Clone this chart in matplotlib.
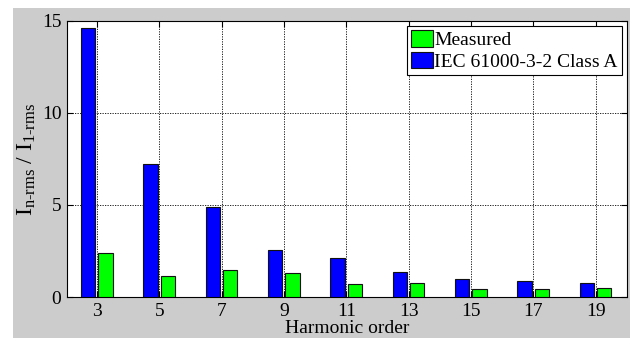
import matplotlib
matplotlib.use("Agg")
import matplotlib.pyplot as plt
import numpy as np
from matplotlib.patches import Rectangle

plt.rcParams['font.family'] = ['Liberation Serif', 'DejaVu Serif']
plt.rcParams['mathtext.fontset'] = 'custom'
plt.rcParams['mathtext.rm'] = 'Liberation Serif'
plt.rcParams['mathtext.it'] = 'Liberation Serif:italic'

harmonics = ['3', '5', '7', '9', '11', '13', '15', '17', '19']
iec_class_a = [14.6, 7.23, 4.9, 2.55, 2.1, 1.34, 0.96, 0.87, 0.76]
measured = [2.37, 1.16, 1.47, 1.29, 0.69, 0.76, 0.43, 0.43, 0.47]

fig = plt.figure(figsize=(6.35, 3.38), dpi=100)
# grey figure panel (MATLAB style), inset in white canvas
fig.patches.append(Rectangle((13 / 635, 0), 617 / 635, 330 / 338,
                             transform=fig.transFigure, facecolor='#cccccc',
                             edgecolor='none', zorder=-5))

ax = fig.add_axes([0.1055, 0.1213, 0.8815, 0.8166])
x = np.arange(len(harmonics))
w = 0.23
b1 = ax.bar(x - 0.14, iec_class_a, w, color='#0000ff', edgecolor='#111111',
            linewidth=0.8, label='IEC 61000-3-2 Class A', zorder=3)
b2 = ax.bar(x + 0.14, measured, w, color='#00ff00', edgecolor='#111111',
            linewidth=0.8, label='Measured', zorder=3)

ax.set_xlim(-0.48, 8.5)
ax.set_ylim(0, 15)
ax.set_xticks(x)
ax.set_xticklabels(harmonics)
ax.set_yticks([0, 5, 10, 15])
ax.tick_params(direction='in', labelsize=14, length=4, width=0.8, pad=4,
               top=True, right=True)
ax.grid(True, linestyle=(0, (1.5, 1.5)), color='black', linewidth=0.6)
ax.set_axisbelow(True)
for s in ax.spines.values():
    s.set_linewidth(0.8)

ax.set_xlabel('Harmonic order', fontsize=14, labelpad=0)
ax.set_ylabel(r'$\mathrm{I}_{\text{n-rms}}\ /\ \mathrm{I}_{\text{1-rms}}$',
              fontsize=17, labelpad=3)

leg = ax.legend(handles=[b2, b1], loc='upper right', fontsize=14,
                frameon=True, fancybox=False, edgecolor='black',
                framealpha=1, borderpad=0.2, handlelength=1.1,
                handleheight=0.95, handletextpad=0.1, labelspacing=0.15,
                borderaxespad=0.25)
leg.get_frame().set_linewidth(0.8)

fig.savefig('out.png', dpi=100)
